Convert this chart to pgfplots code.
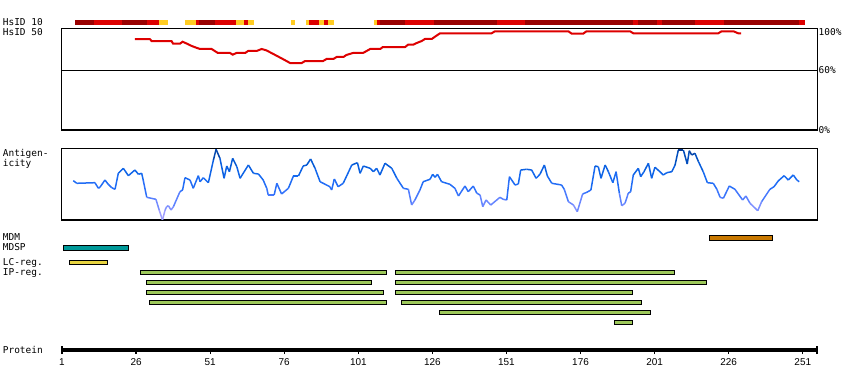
\documentclass[border=0pt]{standalone}
\usepackage{pgfplots}
\pgfplotsset{compat=1.18}
\usepackage{fontspec}
\setmainfont{Liberation Sans}
\newfontfamily\mono{DejaVu Sans Mono}
\definecolor{dred}{HTML}{990000}
\definecolor{mred}{HTML}{DD0000}
\definecolor{myel}{HTML}{FFCC22}
\definecolor{tealb}{HTML}{009999}
\definecolor{lcyel}{HTML}{E8D440}
\definecolor{ipgreen}{HTML}{9DC85A}
\definecolor{mdm}{HTML}{C87800}
\pgfplotsset{
  trackaxis/.style={scale only axis, width=756bp, xmin=0.764, xmax=255.9},
}
\newcommand{\seg}[3]{\addplot[draw=#1, line width=4.7bp, forget plot] coordinates {(#2,22.35) (#3,22.35)};}
\newcommand{\fbar}[5]{\addplot[fill=#1, draw=black, line width=1bp, line join=miter, forget plot] coordinates {(#2,#4) (#3,#4) (#3,#5) (#2,#5)} --cycle;}
\newcommand{\lab}{\mono\fontsize{9.5}{10}\selectfont}
\begin{document}
\begin{tikzpicture}
\path[use as bounding box] (0,0) rectangle (850bp,390bp);
% ---------- tracks (HsID 10 bar and feature bars), y in pixels from top
\begin{axis}[trackaxis, at={(61.3bp,0bp)}, anchor=south west, height=390bp,
  ymin=0, ymax=390, y dir=reverse, hide axis, clip=false]
\seg{dred}{5.4}{11.8}
\seg{mred}{11.8}{21.2}
\seg{dred}{21.2}{29.7}
\seg{mred}{29.7}{33.7}
\seg{myel}{33.7}{36.7}
\seg{myel}{42.5}{46.2}
\seg{mred}{46.2}{47.2}
\seg{dred}{47.2}{52.6}
\seg{mred}{52.6}{59.7}
\seg{myel}{59.7}{62.4}
\seg{mred}{62.4}{63.8}
\seg{myel}{63.8}{65.8}
\seg{myel}{78.3}{79.6}
\seg{myel}{83.3}{84.4}
\seg{mred}{84.4}{87.7}
\seg{myel}{87.7}{89.4}
\seg{mred}{89.4}{90.8}
\seg{myel}{90.8}{92.8}
\seg{myel}{106.3}{107.3}
\seg{mred}{107.3}{108.3}
\seg{dred}{108.3}{116.8}
\seg{mred}{116.8}{126.5}
\seg{dred}{126.5}{147.8}
\seg{mred}{147.8}{157.3}
\seg{dred}{157.3}{193.7}
\seg{mred}{193.7}{195.4}
\seg{dred}{195.4}{201.8}
\seg{mred}{201.8}{203.5}
\seg{dred}{203.5}{214.6}
\seg{mred}{214.6}{224.4}
\seg{dred}{224.4}{249.7}
\seg{mred}{249.7}{251.8}
% MDM
\fbar{mdm}{219.6}{240.7}{235.8}{240.2}
% MDSP
\fbar{tealb}{1.6}{23.3}{245.8}{250.2}
% LC-reg
\fbar{lcyel}{3.5}{16.3}{260.5}{264.2}
% IP-reg
\fbar{ipgreen}{27.6}{110.4}{270.5}{274.2}
\fbar{ipgreen}{113.6}{207.6}{270.5}{274.2}
\fbar{ipgreen}{29.6}{105.4}{280.5}{284.2}
\fbar{ipgreen}{113.6}{218.4}{280.5}{284.2}
\fbar{ipgreen}{29.6}{109.4}{290.5}{294.2}
\fbar{ipgreen}{113.6}{193.4}{290.5}{294.2}
\fbar{ipgreen}{30.6}{110.4}{300.5}{304.2}
\fbar{ipgreen}{115.6}{196.5}{300.5}{304.2}
\fbar{ipgreen}{128.5}{199.5}{310.5}{314.2}
\fbar{ipgreen}{187.6}{193.4}{320.5}{324.2}
\end{axis}
% ---------- HsID 50
\begin{axis}[trackaxis, at={(61.3bp,260bp)}, anchor=south west, height=101.7bp,
  ymin=0, ymax=102.2, xtick=\empty, ytick=\empty, axis line style={line width=1.3bp}]
\addplot[black, line width=1.3bp] coordinates {(0.764,60) (255.9,60)};
\addplot[mred, line width=2bp] coordinates {
(25.6,91.2) (30.7,91.2) (31.3,89.2) (38,89.2) (38.5,86.7) (40.8,86.7) (41.7,88.7)
(42.9,87.1) (44.8,84.4) (46.5,82.5) (47.6,81.4) (51.5,81.4) (53.6,77.4) (57.7,77.4)
(58.6,75.7) (59.9,77.4) (62.8,77.4) (63.8,79.4) (66.7,79.4) (68.4,81.4) (70,80)
(72.3,76.4) (75.1,72) (78,67.3) (81.9,67.3) (83,69.3) (89.1,69.3) (90.3,71.4)
(92.6,71.4) (93.7,73.4) (96,73.4) (97,75.4) (99.2,77.4) (102.6,77.4) (103.8,79.4)
(105,81.4) (108.4,81.4) (109.3,83.4) (116.8,83.4) (117.8,85.7) (119.5,85.7)
(120.7,87.4) (122.4,89.4) (123.5,91.5) (125.8,91.5) (126.9,93.8) (128.6,97.2)
(146,97.2) (147.1,99.2) (171.9,99.2) (173,96.8) (176.9,96.8) (178,99.2) (192.7,99.2)
(193.8,97.2) (222.5,97.2) (223.6,99.2) (227.6,99.2) (229.2,97.2) (230.2,97.2)};
\end{axis}
% ---------- Antigenicity (y in pixels from top)
\begin{axis}[trackaxis, at={(61.3bp,170bp)}, anchor=south west, height=71.7bp,
  ymin=148.3, ymax=220, y dir=reverse, xtick=\empty, ytick=\empty,
  axis line style={line width=1.3bp},
  colormap={ag}{rgb255(0)=(10,55,135) rgb255(12)=(0,85,205) rgb255(28)=(20,105,240)
    rgb255(42)=(45,112,250) rgb255(52)=(95,130,255) rgb255(72)=(180,168,255)},
  point meta min=148, point meta max=220]
\addplot[mesh, point meta=y, line width=1.5bp] coordinates {
(4.8,180.7) (6.0,183.3) (12.1,182.7) (13.3,188.3) (13.8,187.3) (15.5,180) (16.6,184.3)
(17.8,187.7) (18.9,189.3) (20.0,173.3) (21.7,168.3) (23.4,175.7) (25.6,170) (26.8,174.3)
(27.9,173.3) (28.4,180) (29.6,197.3) (32.7,199.3) (33.8,210) (34.9,220) (35.8,210)
(36.3,206.7) (36.9,205.7) (37.8,210) (38.6,206.7) (40.8,191.7) (41.7,190) (42.5,177.7)
(44.2,180) (45.3,188.3) (47.0,175.7) (47.6,181.7) (48.7,177.7) (50.4,182.7) (52.1,160)
(53.0,149.3) (54.3,158.3) (55.7,178.3) (56.6,166) (57.5,171.7) (58.6,158.3) (60.0,166.7)
(61.1,178.3) (63.9,165) (65.6,173.3) (67.3,174) (68.9,180) (70.1,188.3) (70.6,195)
(72.6,195) (73.5,183.3) (75.1,194) (77.4,188.3) (79.1,176) (80.8,176) (82.4,166)
(83.6,165) (84.9,159) (86.4,168.3) (88.1,181.7) (91.4,186.7) (92.0,190) (92.9,179)
(94.2,186.7) (95.9,183.3) (98.8,165) (100.7,162.7) (101.6,173.3) (102.7,166) (105.0,168.3)
(106.1,171.7) (107.2,168.3) (108.3,175) (110.0,163.3) (112.3,168.3) (114.0,178.3)
(116.2,188.3) (117.9,189.3) (119.0,205) (120.1,200) (121.8,190) (122.9,181.7)
(125.2,179.3) (126.1,174.3) (126.9,177.3) (127.7,174.3) (129.1,181.7) (131.9,184.3)
(133.6,188.3) (134.8,196) (137.0,186) (138.1,191.7) (139.8,186) (141.0,193.3)
(142.1,195) (143.0,206.7) (144.1,200) (145.7,205) (148.8,197.3) (149.9,199.3)
(151.1,200) (152.0,176.7) (153.9,185) (155.0,184) (155.8,170) (157.8,169.3)
(159.5,170) (161.0,178.3) (162.3,174.3) (163.8,165) (164.8,176) (166.3,183.3)
(169.6,185) (170.5,189.3) (171.9,201.7) (173.6,205) (174.9,211.7) (176.7,194)
(178.1,192.3) (179.5,190) (180.9,166) (182.0,166.7) (182.9,178.3) (184.3,165)
(185.4,171.7) (186.9,182.7) (188.0,171.7) (189.1,193.3) (189.9,205.7) (191.0,203.3)
(192.1,193.3) (192.9,191.7) (193.8,175) (195.5,168.3) (196.3,176.7) (197.4,171.7)
(198.9,163.3) (200.0,178.3) (201.1,167.3) (202.8,171.7) (203.9,175) (205.1,172.7)
(206.8,171.7) (207.9,165) (209.0,150) (210.7,150) (212.0,164) (212.7,150.7)
(213.5,155) (214.6,153.3) (215.8,161.7) (217.4,171.7) (218.8,182.7) (220.8,183.3)
(222.0,189.3) (223.1,197.3) (224.2,198.3) (226.2,186) (228.1,189.3) (230.7,200)
(231.8,196) (233.2,203.3) (235.8,210.7) (237.1,201.7) (239.9,189.3) (241.3,186.7)
(242.7,181) (244.7,175.7) (246.1,180) (247.8,175) (249.0,180) (249.8,181.7)};
\end{axis}
% ---------- Protein axis
\begin{axis}[scale only axis, at={(62bp,40bp)}, anchor=south west, width=755bp, height=10bp,
  xmin=1, xmax=255.8, ymin=0, ymax=1, axis x line*=bottom, axis y line=none,
  x axis line style={-, line width=3bp},
  xtick={1,26,51,76,101,126,151,176,201,226,251},
  xticklabels={1,26,51,76,101,126,151,176,201,226,251},
  tick style={black, line width=1.2bp}, major tick length=4bp, tick align=outside,
  extra x ticks={1,255.8}, extra x tick labels={},
  extra x tick style={major tick length=8bp, tick align=center},
  xticklabel style={font=\fontsize{10}{11}\selectfont, inner sep=0pt, anchor=north, yshift=-4bp}]
\end{axis}
% ---------- labels
\node[anchor=base west, font=\lab, inner sep=0] at (2.7bp,364bp) {HsID 10};
\node[anchor=base west, font=\lab, inner sep=0] at (2.7bp,354bp) {HsID 50};
\node[anchor=base west, font=\lab, inner sep=0] at (2.7bp,233.3bp) {Antigen-};
\node[anchor=base west, font=\lab, inner sep=0] at (2.7bp,223.3bp) {icity};
\node[anchor=base west, font=\lab, inner sep=0] at (2.7bp,149.3bp) {MDM};
\node[anchor=base west, font=\lab, inner sep=0] at (2.7bp,139.3bp) {MDSP};
\node[anchor=base west, font=\lab, inner sep=0] at (2.7bp,124.3bp) {LC-reg.};
\node[anchor=base west, font=\lab, inner sep=0] at (2.7bp,114.3bp) {IP-reg.};
\node[anchor=base west, font=\lab, inner sep=0] at (2.7bp,36.7bp) {Protein};
\node[anchor=base west, font=\lab, inner sep=0] at (818.5bp,354bp) {100\%};
\node[anchor=base west, font=\lab, inner sep=0] at (818.5bp,316bp) {60\%};
\node[anchor=base west, font=\lab, inner sep=0] at (818.5bp,256.7bp) {0\%};
\end{tikzpicture}
\end{document}
